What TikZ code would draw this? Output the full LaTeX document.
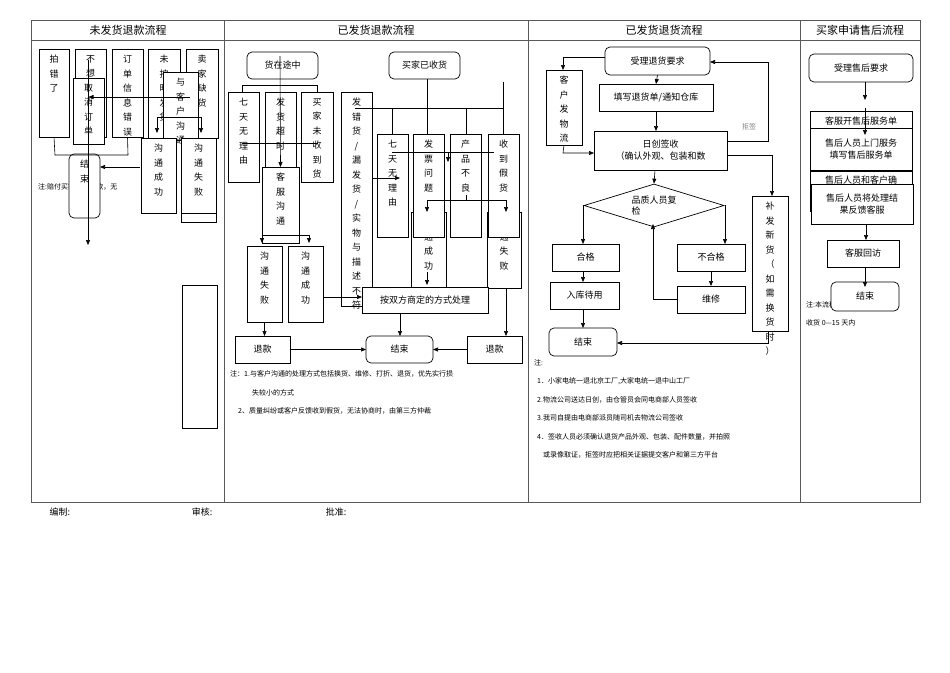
\documentclass[tikz,border=0pt]{standalone}
\usepackage{fontspec}
\setmainfont{Noto Sans CJK SC}
\usetikzlibrary{shapes.geometric,arrows.meta}
\newcommand\VB[6]{\node[box,minimum width={(#4-#2)*1pt},minimum height={(#5-#3)*1pt},label={[vlab]north:{#6}}] (#1) at ({(#2+#4)/2},{(#3+#5)/2}) {};}
\newcommand\HB[6]{\node[box,minimum width={(#4-#2)*1pt},minimum height={(#5-#3)*1pt}] (#1) at ({(#2+#4)/2},{(#3+#5)/2}) {#6};}
\newcommand\RB[6]{\node[box,rounded corners=5pt,minimum width={(#4-#2)*1pt},minimum height={(#5-#3)*1pt}] (#1) at ({(#2+#4)/2},{(#3+#5)/2}) {#6};}
\begin{document}
\begin{tikzpicture}[x=1pt,y=-1pt,
 box/.style={draw,line width=0.7pt,fill=white,inner sep=0pt,outer sep=0pt,align=center,font=\fontsize{9}{12}\selectfont},
 vlab/.style={anchor=north,yshift=-6pt,align=center,inner sep=0pt,font=\fontsize{9}{14.5}\selectfont},
 ln/.style={line width=0.6pt},
 ar/.style={line width=0.6pt,-{Triangle[length=5pt,width=4pt]}},
 note/.style={anchor=west,inner sep=0pt,font=\fontsize{7}{9}\selectfont},
 head/.style={font=\fontsize{11}{13}\selectfont}]
\useasboundingbox (0,0) rectangle (950,672);
\fill[white] (0,0) rectangle (950,672);
% frame
\draw[line width=0.6pt,gray!70!black] (31,20) rectangle (920,502);
\draw[line width=0.6pt,gray!70!black] (31,40) -- (920,40);
\foreach \x in {224,528,800} \draw[line width=0.6pt,gray!70!black] (\x,20) -- (\x,502);
\node[head] (h1) at (128,30) {未发货退款流程};
\node[head] (h2) at (376,30) {已发货退款流程};
\node[head] (h3) at (664,30) {已发货退货流程};
\node[head] (h4) at (860,30) {买家申请售后流程};
% ===== column 1
\node[note] (n1) at (38,187) {注:赔付买家30\%货款，无};
\VB{a1}{39}{49}{69}{137}{拍\\错\\了}
\VB{a2}{75}{49}{106}{137}{不\\想}
\VB{a3}{112}{49}{143}{137}{订\\单\\信\\息\\错\\误}
\VB{a4}{148}{49}{180}{138}{未\\按\\时\\发\\货}
\VB{a5}{186}{49}{218}{138}{卖\\家\\缺\\货}
\VB{a6}{73}{78}{104}{144}{取\\消\\订\\单}
\VB{a7}{163}{72}{198}{140}{与\\客\\户\\沟\\通}
\draw[box] (181,213) rectangle (216,222);
\VB{a8}{141}{138}{176}{213}{沟\\通\\成\\功}
\VB{a9}{181}{138}{216}{213}{沟\\通\\失\\败}
\node[box,rounded corners=5pt,minimum width=31pt,minimum height=64pt,label={[vlab]north:{结\\束}}] (a10) at (84.5,186) {};
\draw[ln] (a1.south) -- (55,155) -- (128,155) -- (a3.south);
\draw[ar] (140,167) -- (a10.east|-0,167);
\draw[ar] (190,97) -- (a6.center|-0,97);
\draw[ar] (180,117) -- (157,117) -- (157,133);
\draw[ar] (180,117) -- (201,117) -- (201,133);
\draw[ar] (88,60) -- (88,245);
\draw[box] (182,285) rectangle (217,428);
% ===== column 2
\RB{b1}{247}{52}{318}{79}{货在途中}
\RB{b2}{389}{52}{460}{79}{买家已收货}
\draw[ln] (242,92) -- (242,85) -- (317,85) -- (317,92);
\VB{b3}{228}{92}{259}{182}{七\\天\\无\\理\\由}
\VB{b4}{265}{92}{296}{182}{发\\货\\超\\时}
\VB{b5}{301}{92}{333}{182}{买\\家\\未\\收\\到\\货}
\draw[ln] (242,143) -- (318,143);
\VB{b6}{262}{167}{299}{243}{客\\服\\沟\\通}
\draw[ar] (280,56) -- (b6.north);
\VB{b7}{247}{246}{282}{322}{沟\\通\\失\\败}
\VB{b8}{288}{246}{323}{322}{沟\\通\\成\\功}
\draw[ar] (262,235) -- (309,235) -- (309,243);
\draw[ar] (262,235) -- (262,243);
\VB{b9}{341}{92}{372}{306}{发\\错\\货\\/\\漏\\发\\货\\/\\实\\物\\与\\描\\述\\不\\符}
\draw[ln] (427,79) -- (427,135);
\draw[ln] (355,108) -- (503,108);
\draw[ln] (503,82) -- (503,134);
\foreach \x in {392,466} \draw[ln] (\x,108) -- (\x,134);
\VB{b14}{411}{212}{446}{288}{沟\\通\\成\\功}
\VB{b15}{487}{212}{521}{288}{沟\\通\\失\\败}
\VB{b10}{377}{134}{408}{237}{七\\天\\无\\理\\由}
\VB{b11}{413}{134}{444}{237}{发\\票\\问\\题}
\VB{b12}{450}{134}{481}{237}{产\\品\\不\\良}
\VB{b13}{488}{134}{519}{237}{收\\到\\假\\货}
\draw[ln] (392,152) -- (494,152);
\draw[ar] (448,152) -- (448,162);
\draw[ar] (372,178) -- (400,178);
\draw[ln] (466,195) -- (466,200);
\draw[ar] (427,200) -- (427,212);
\draw[ar] (427,200) -- (506,200) -- (506,212);
\draw[ar] (427,272) -- (427,285);
\HB{b16}{362}{287}{488}{313}{按双方商定的方式处理}
\draw[ar] (b8.east|-0,297) -- (362,297);
\HB{b17}{235}{336}{290}{363}{退款}
\RB{b18}{366}{336}{433}{363}{结束}
\HB{b19}{467}{336}{522}{363}{退款}
\draw[ar] (b7.south) -- (b17.north-|b7.south);
\draw[ar] (400,313) -- (400,336);
\draw[ar] (506,288) -- (506,336);
\draw[ar] (b17.east) -- (b18.west);
\draw[ar] (b19.west) -- (b18.east);
\node[note] (n2) at (230,374) {注：1.与客户沟通的处理方式包括换货、维修、打折、退货，优先实行损};
\node[note] (n3) at (252,393) {失较小的方式};
\node[note] (n4) at (238,411) {2、质量纠纷或客户反馈收到假货，无法协商时，由第三方仲裁};
% ===== column 3
\RB{c1}{605}{47}{710}{75}{受理退货要求}
\VB{c2}{546}{70}{582}{145}{客\\户\\发\\物\\流}
\HB{c3}{599}{84}{713}{111}{填写退货单/通知仓库}
\node[box,minimum width=133pt,minimum height=39pt] (c4) at (660.5,150.5) {日创签收\\（确认外观、包装和数};
\node[draw,line width=0.7pt,fill=white,diamond,aspect=3.2,minimum width=140pt,minimum height=43pt,inner sep=0pt,font=\fontsize{9}{11}\selectfont,align=left] (c5) at (654,205.5) {品质人员复\\检};
\HB{c6}{552}{244}{619}{271}{合格}
\HB{c7}{677}{244}{745}{271}{不合格}
\HB{c8}{550}{282}{619}{309}{入库待用}
\HB{c9}{677}{286}{745}{313}{维修}
\RB{c10}{549}{328}{617}{356}{结束}
\VB{c11}{752}{196}{788}{331}{补\\发\\新\\货\\（\\如\\需\\换\\货\\时\\）}
\draw[ar] (605,57) -- (563,57) -- (563,70);
\draw[ar] (c1.south) -- (c3.north);
\draw[ar] (c3.south) -- (c4.north-|c3.south);
\draw[ar] (c2.south) -- (563,153) -- (594,153);
\draw[ar] (c4.south-|655,0) -- (c5.north);
\draw[ar] (727,141) -- (768,141) -- (768,62) -- (710,62);
\node[font=\fontsize{7}{9}\selectfont,gray] (c12) at (749,127) {拒签};
\draw[ar] (727,155) -- (772,155) -- (772,196);
\draw[ar] (583,205) -- (583,244);
\draw[ar] (725,205) -- (725,244);
\draw[ar] (583,271) -- (583,282);
\draw[ar] (583,309) -- (583,328);
\draw[ar] (711,271) -- (711,286);
\draw[ar] (677,299) -- (653,299) -- (653,224);
\draw[ar] (768,331) -- (768,343) -- (617,343);
\node[note] (m0) at (534,363) {注:};
\node[note] (m1) at (537,381) {1．小家电统一退北京工厂,大家电统一退中山工厂};
\node[note] (m2) at (537,400) {2.物流公司送达日创，由仓管员会同电商部人员签收};
\node[note] (m3) at (537,418) {3.我司自提由电商部派员随司机去物流公司签收};
\node[note] (m4) at (537,437) {4．签收人员必须确认退货产品外观、包装、配件数量，并拍照};
\node[note] (m5) at (543,455) {或录像取证，拒签时应把相关证据提交客户和第三方平台};
% ===== column 4
\RB{d1}{809}{54}{913}{82}{受理售后要求}
\node[note] (k1) at (806,305) {注:本流程适用于确认};
\node[note] (k2) at (806,323) {收货 0—15 天内};
\HB{d2}{810}{111}{912}{131}{客服开售后服务单}
\HB{d3}{810}{128}{912}{170}{售后人员上门服务\\填写售后服务单}
\node[box,minimum width=102pt,minimum height=40pt,label={[inner sep=0pt,font=\fontsize{9}{12}\selectfont,anchor=north,yshift=-5pt]north:售后人员和客户确}] (d4) at (861,191) {};
\HB{d5}{811}{184}{913}{224}{售后人员将处理结\\果反馈客服}
\HB{d6}{827}{240}{899}{267}{客服回访}
\RB{d7}{831}{282}{899}{311}{结束}
\draw[ar] (865,82) -- (865,100);
\draw[ar] (865,108) -- (865,135);
\draw[ar] (866,224) -- (866,240);
\draw[ar] (865,267) -- (865,287);
% footer
\node[font=\fontsize{9}{11}\selectfont] (f1) at (60,512) {编制:};
\node[font=\fontsize{9}{11}\selectfont] (f2) at (202,512) {审核:};
\node[font=\fontsize{9}{11}\selectfont] (f3) at (336,512) {批准:};
\end{tikzpicture}
\end{document}
